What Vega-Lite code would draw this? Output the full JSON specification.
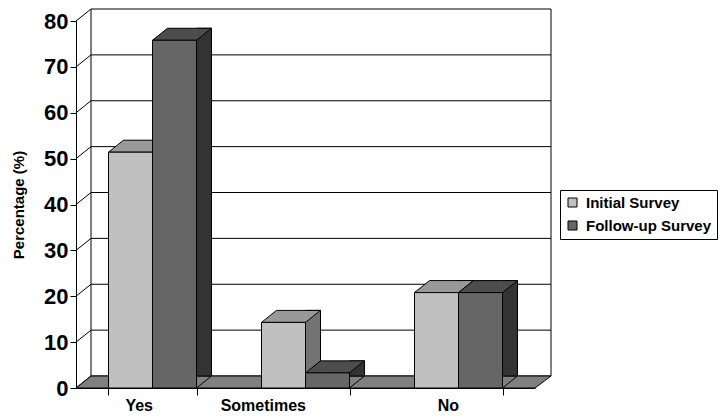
{
  "$schema": "https://vega.github.io/schema/vega-lite/v6.json",
  "width": 459,
  "height": 367,
  "autosize": {"type": "none"},
  "padding": {"left": 76, "top": 21, "right": 186, "bottom": 30},
  "background": "white",
  "datasets": {
    "bars": [
      {"answer": "Yes", "series": "Initial Survey", "value": 51.4},
      {"answer": "Yes", "series": "Follow-up Survey", "value": 75.8},
      {"answer": "Sometimes", "series": "Initial Survey", "value": 14.3},
      {"answer": "Sometimes", "series": "Follow-up Survey", "value": 3.3},
      {"answer": "No", "series": "Initial Survey", "value": 20.8},
      {"answer": "No", "series": "Follow-up Survey", "value": 20.8}
    ],
    "grid": [
      {"v": 0}, {"v": 10}, {"v": 20}, {"v": 30}, {"v": 40},
      {"v": 50}, {"v": 60}, {"v": 70}, {"v": 80}
    ],
    "one": [{"v": 0}]
  },
  "config": {
    "view": {"stroke": null},
    "font": "Liberation Sans",
    "axis": {
      "domainColor": "black",
      "domainWidth": 1,
      "tickColor": "black",
      "tickWidth": 1,
      "labelColor": "black",
      "titleColor": "black",
      "labelFont": "Liberation Sans",
      "titleFont": "Liberation Sans",
      "labelFontWeight": "bold",
      "titleFontWeight": "bold"
    }
  },
  "layer": [
    {
      "data": {"name": "grid"},
      "mark": {"type": "point", "shape": "M-229.5,0L-214.5,-12L245.5,-12", "size": 4, "filled": false, "stroke": "black", "strokeWidth": 1, "opacity": 1},
      "encoding": {
        "y": {"field": "v", "type": "quantitative", "title": "Percentage (%)", "scale": {"domain": [0, 80], "nice": false}}
      }
    },
    {
      "data": {"name": "one"},
      "mark": {"type": "point", "shape": "M-214.5,-12L-214.5,-379M245.5,-12L245.5,-379", "size": 4, "filled": false, "stroke": "black", "strokeWidth": 1, "opacity": 1},
      "encoding": {
        "y": {"field": "v", "type": "quantitative", "title": "Percentage (%)"}
      }
    },
    {
      "data": {"name": "one"},
      "mark": {"type": "point", "shape": "M-229.5,0L229.5,0L245.5,-12L-214.5,-12Z", "size": 4, "filled": true, "fill": "#808080", "stroke": "black", "strokeWidth": 1, "opacity": 1},
      "encoding": {
        "y": {"field": "v", "type": "quantitative", "title": "Percentage (%)"}
      }
    },
    {
      "data": {"name": "bars"},
      "transform": [{"filter": "datum.series === 'Initial Survey'"}],
      "mark": {"type": "bar", "width": 15, "xOffset": 7.5, "yOffset": -12, "fill": "#737373", "stroke": "black", "strokeWidth": 1},
      "encoding": {
        "x": {"field": "answer", "type": "nominal", "sort": ["Yes", "Sometimes", "No"], "title": null, "scale": {"paddingInner": 0.4248, "paddingOuter": 0.2124}},
        "y": {"field": "value", "type": "quantitative", "title": "Percentage (%)"}
      }
    },
    {
      "data": {"name": "bars"},
      "transform": [{"filter": "datum.series === 'Initial Survey'"}],
      "mark": {"type": "point", "shape": "M-44,0L0,0L15,-12L-29,-12Z", "size": 4, "filled": true, "fill": "#999999", "stroke": "black", "strokeWidth": 1, "opacity": 1},
      "encoding": {
        "x": {"field": "answer", "type": "nominal", "sort": ["Yes", "Sometimes", "No"], "title": null},
        "y": {"field": "value", "type": "quantitative", "title": "Percentage (%)"}
      }
    },
    {
      "data": {"name": "bars"},
      "transform": [{"filter": "datum.series === 'Initial Survey'"}],
      "mark": {"type": "bar", "width": 44, "xOffset": -22, "stroke": "black", "strokeWidth": 1},
      "encoding": {
        "x": {"field": "answer", "type": "nominal", "sort": ["Yes", "Sometimes", "No"], "title": null},
        "y": {"field": "value", "type": "quantitative", "title": "Percentage (%)"},
        "color": {
          "field": "series", "type": "nominal",
          "scale": {"domain": ["Initial Survey", "Follow-up Survey"], "range": ["#c0c0c0", "#666666"]}
        }
      }
    },
    {
      "data": {"name": "bars"},
      "transform": [{"filter": "datum.series === 'Follow-up Survey'"}],
      "mark": {"type": "bar", "width": 15, "xOffset": 51.5, "yOffset": -12, "fill": "#333333", "stroke": "black", "strokeWidth": 1},
      "encoding": {
        "x": {"field": "answer", "type": "nominal", "sort": ["Yes", "Sometimes", "No"], "title": null},
        "y": {"field": "value", "type": "quantitative", "title": "Percentage (%)"}
      }
    },
    {
      "data": {"name": "bars"},
      "transform": [{"filter": "datum.series === 'Follow-up Survey'"}],
      "mark": {"type": "point", "shape": "M59,0L44,0L59,-12", "size": 4, "filled": true, "fill": "#808080", "stroke": "black", "strokeWidth": 1, "opacity": 1},
      "encoding": {
        "x": {"field": "answer", "type": "nominal", "sort": ["Yes", "Sometimes", "No"], "title": null},
        "y": {"datum": 0, "type": "quantitative", "title": "Percentage (%)"}
      }
    },
    {
      "data": {"name": "bars"},
      "transform": [{"filter": "datum.series === 'Follow-up Survey'"}],
      "mark": {"type": "point", "shape": "M0,0L44,0L59,-12L15,-12Z", "size": 4, "filled": true, "fill": "#4d4d4d", "stroke": "black", "strokeWidth": 1, "opacity": 1},
      "encoding": {
        "x": {"field": "answer", "type": "nominal", "sort": ["Yes", "Sometimes", "No"], "title": null},
        "y": {"field": "value", "type": "quantitative", "title": "Percentage (%)"}
      }
    },
    {
      "data": {"name": "bars"},
      "transform": [{"filter": "datum.series === 'Follow-up Survey'"}],
      "mark": {"type": "bar", "width": 44, "xOffset": 22, "stroke": "black", "strokeWidth": 1},
      "encoding": {
        "x": {
          "field": "answer", "type": "nominal", "sort": ["Yes", "Sometimes", "No"], "title": null,
          "axis": {"labelAngle": 0, "labelFontSize": 16, "tickSize": 7, "tickBand": "extent", "labelPadding": 10, "domain": true}
        },
        "y": {
          "field": "value", "type": "quantitative", "title": "Percentage (%)",
          "axis": {"values": [0, 10, 20, 30, 40, 50, 60, 70, 80], "grid": false, "tickSize": 6, "labelPadding": 2, "labelFontSize": 22, "titleFontSize": 15, "titlePadding": 17}
        },
        "color": {
          "field": "series", "type": "nominal",
          "scale": {"domain": ["Initial Survey", "Follow-up Survey"], "range": ["#c0c0c0", "#666666"]},
          "legend": {
            "title": null, "orient": "none", "legendX": 484, "legendY": 169,
            "strokeColor": "black", "fillColor": "white", "padding": 5,
            "symbolType": "square", "symbolSize": 81, "symbolStrokeColor": "black", "symbolStrokeWidth": 1,
            "labelFont": "Liberation Sans", "labelFontSize": 15, "labelFontWeight": "bold", "labelColor": "black",
            "rowPadding": 7, "labelOffset": 6
          }
        }
      }
    }
  ]
}
